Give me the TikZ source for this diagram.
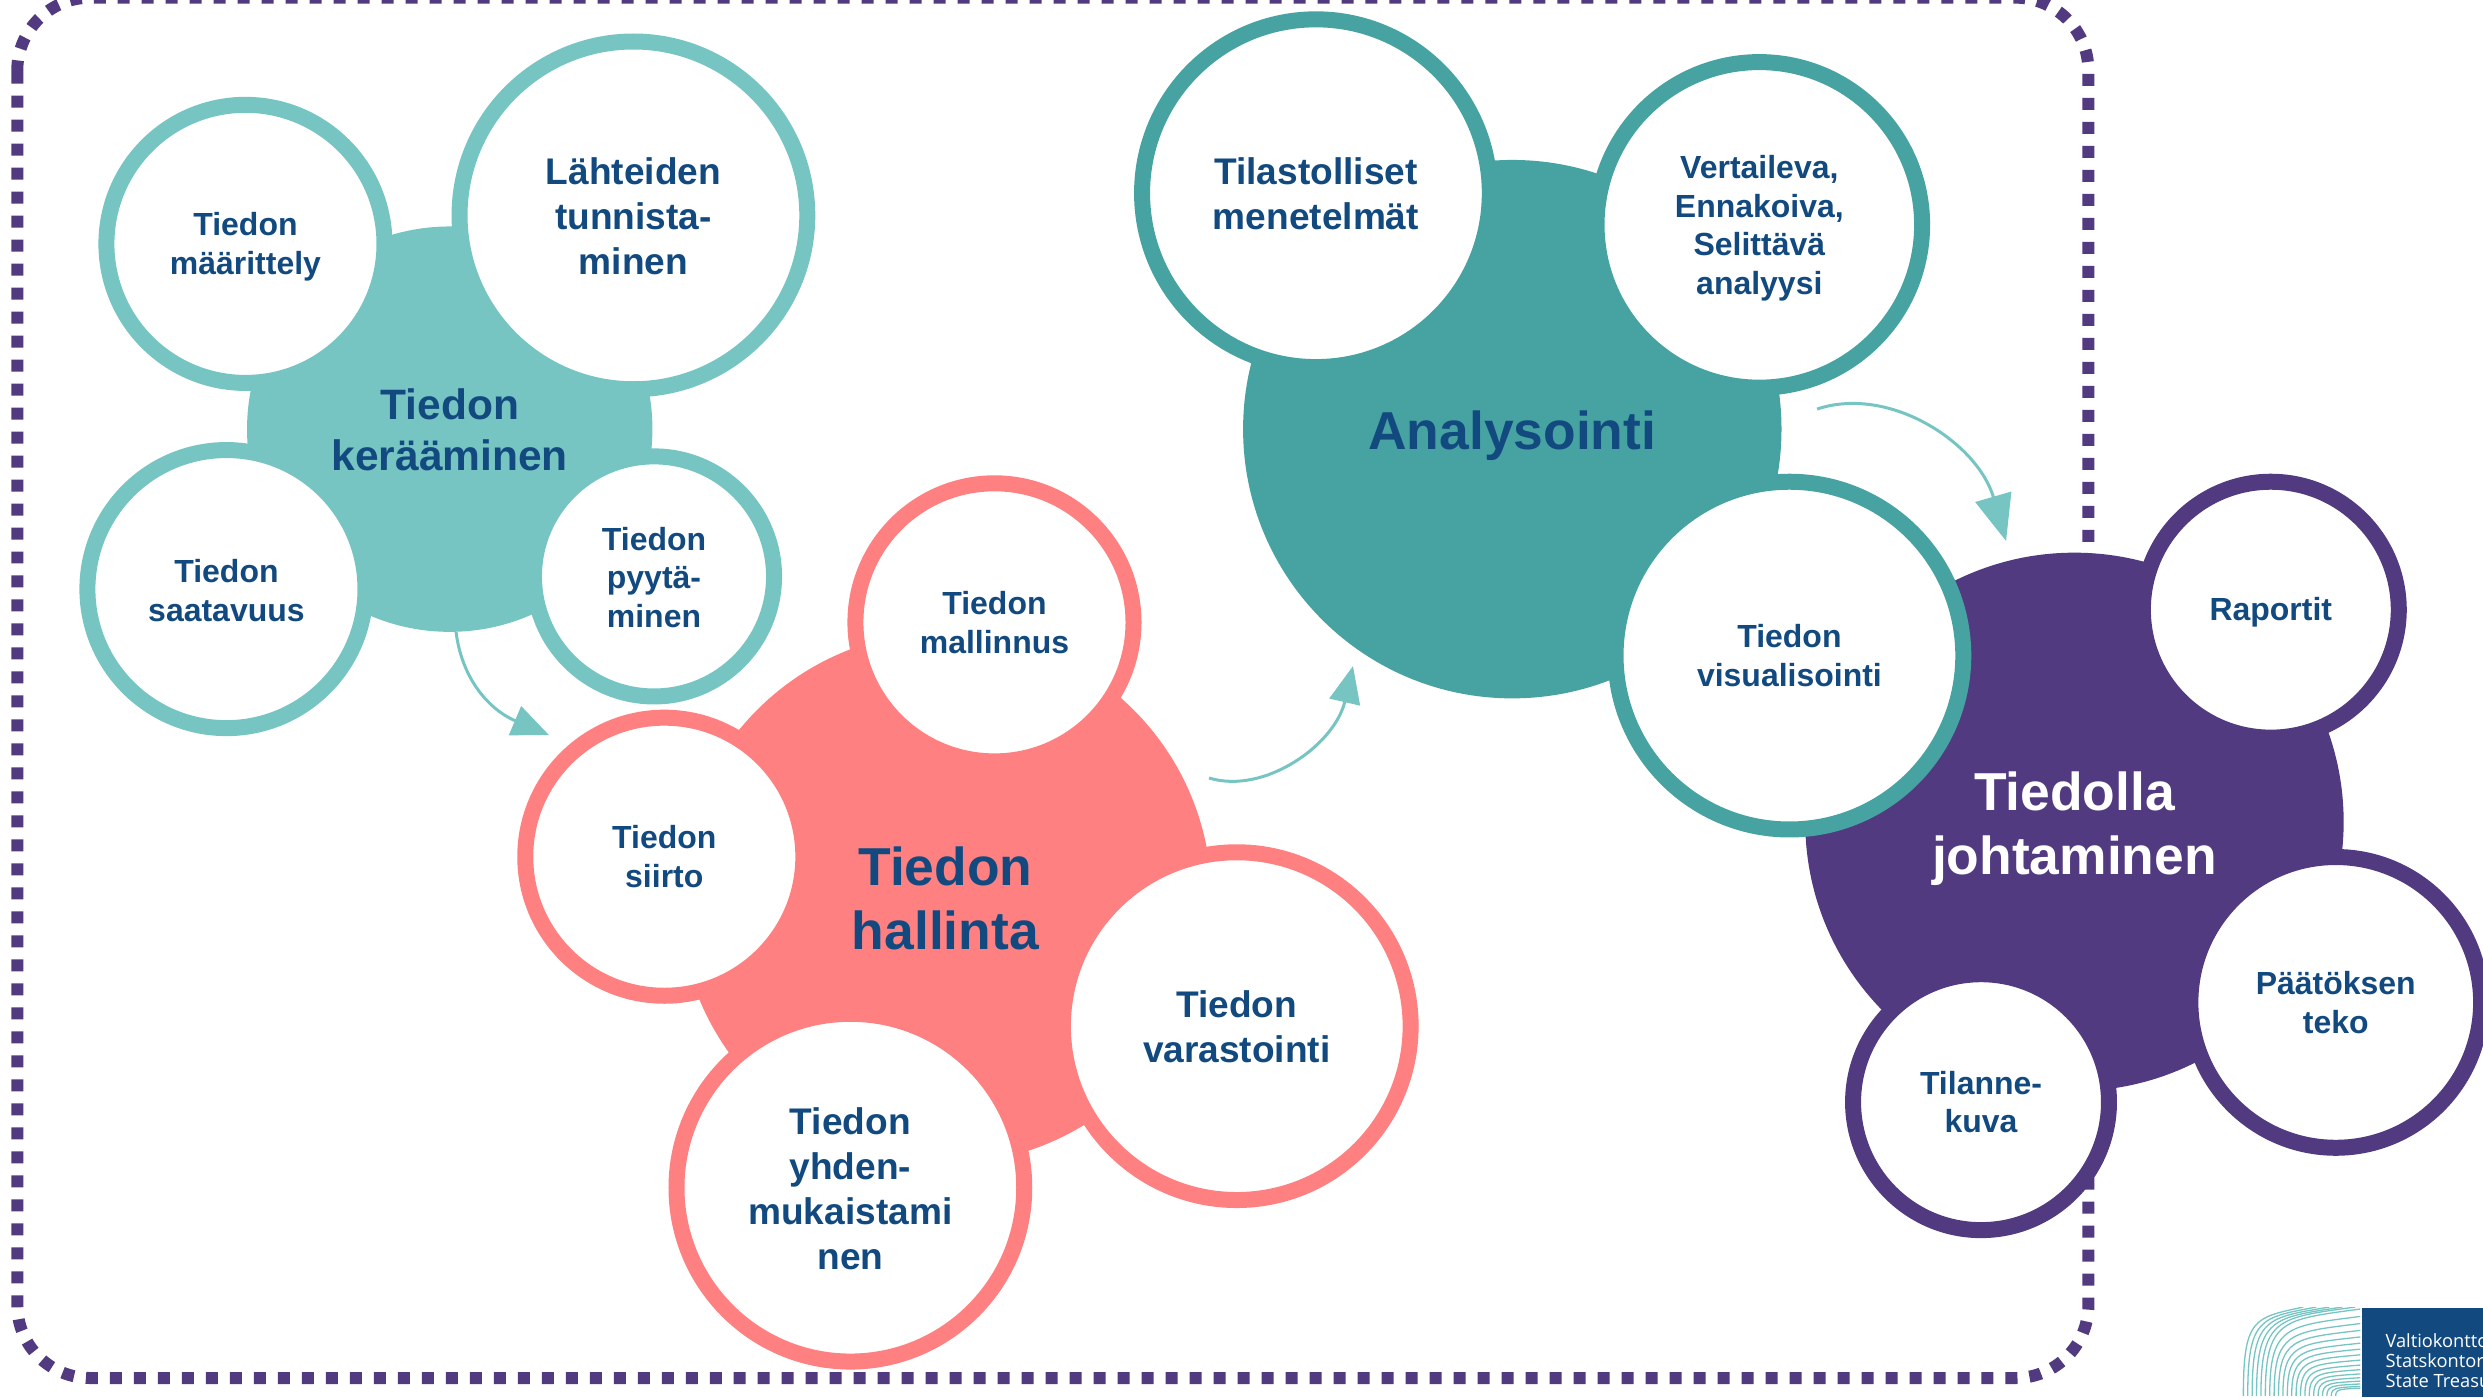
\documentclass[tikz,border=0pt]{standalone}
\usepackage{fontspec}
\setmainfont{Liberation Sans}
\newfontfamily\logofont{Open Sans}
\usetikzlibrary{arrows.meta}
\definecolor{tlight}{HTML}{76C5C3}
\definecolor{tdark}{HTML}{46A3A1}
\definecolor{pinkc}{HTML}{FF8080}
\definecolor{purp}{HTML}{513A7F}
\definecolor{ink}{HTML}{124A80}
\newcommand{\fsS}{\fontsize{9.1}{11}\selectfont\bfseries}
\newcommand{\fsM}{\fontsize{10.55}{12.85}\selectfont\bfseries}
\newcommand{\fsL}{\fontsize{12.1}{14.4}\selectfont\bfseries}
\newcommand{\fsX}{\fontsize{15.2}{18.1}\selectfont\bfseries}
% pushes a label down by #1 reference px (shrunk scale) inside its centred circle
\newcommand{\dn}[1]{\rule{0pt}{\dimexpr\fontcharht\font`d+#1pt*9/10\relax}}
\tikzset{
 x=0.015835cm,y=-0.015835cm,
 mainb/.style={circle,inner sep=0,align=center,text=ink,minimum size=#1*0.03167cm},
 sub/.style={circle,draw,fill=white,line width=0.16cm,inner sep=0,align=center,text=ink,minimum size=(#1-5.2)*0.03167cm},
 flow/.style 2 args={draw=tlight,line width=0.03cm,-{Triangle[length=#1cm,width=#2cm,fill=tlight]}},
}
\begin{document}
\begin{tikzpicture}
\useasboundingbox (0,0) rectangle (1568,882.2);
\clip (0,0) rectangle (1568,882.2);
\fill[white] (0,0) rectangle (1568,882.2);
% dashed frame
\draw[purp,line width=0.12cm,dash pattern=on 0.12cm off 0.12cm,dash phase=0.22cm,rounded corners=0.73cm] (10.9,47) |- (1318.8,-1.5) |- (10.9,870.2) -- (10.9,44.2);
% logo
\begin{scope}[x=0.01cm,y=-0.01cm]
\clip (2230,1308) rectangle (2362,1397);
\foreach \k in {0,...,21}{
 \pgfmathsetmacro{\Sx}{2245+4.4*\k}
 \pgfmathsetmacro{\Ex}{\k<5 ? 2305+13*\k : 2362}
 \pgfmathsetmacro{\Ey}{\k<5 ? 1308 : 1310+80*(1-(1-(\k-5)/17)^1.6)}
 \draw[tlight,line width=0.013cm]
  (\Sx,1397) .. controls (\Sx,{\Ey+0.12*(1397-\Ey)}) and ({\Sx+0.18*(\Ex-\Sx)},{\Ey+0.12*(1397-\Ey)}) .. (\Ex,\Ey);
}
\end{scope}
\fill[ink] (1491.7,826) rectangle (1568,882.2);
\node[anchor=north west,inner sep=0,text=white,align=left,font=\logofont\fontsize{5.2}{5.7}\selectfont] (logotext) at (1506,841.5) {Valtiokonttori\\Statskontoret\\State Treasury};
% group 1
\node[mainb=128,fill=tlight,font=\fsL] (collect) at (284,271) {\dn{1}Tiedon\\kerääminen};
\node[sub=93,draw=tlight,font=\fsS] (maar) at (155,154) {\dn{2}Tiedon\\määrittely};
\node[sub=115,draw=tlight,font=\fsM] (lahte) at (400,136) {\dn{1}Lähteiden\\tunnista-\\minen};
\node[sub=93,draw=tlight,font=\fsS] (saat) at (143,372) {\dn{1.5}Tiedon\\saatavuus};
\node[sub=81,draw=tlight,font=\fsS] (pyyt) at (413,364) {\dn{1}Tiedon\\pyytä-\\minen};
% group 2
\node[mainb=168,fill=pinkc,font=\fsX] (hall) at (597,567) {\dn{1}Tiedon\\hallinta};
\node[sub=93,draw=pinkc,font=\fsS] (mall) at (628,393) {Tiedon\\mallinnus};
\node[sub=93,draw=pinkc,font=\fsS] (siirto) at (419.5,541) {Tiedon\\siirto};
\node[sub=115,draw=pinkc,font=\fsM] (vara) at (781,648) {\dn{1}Tiedon\\varastointi};
\node[sub=115,draw=pinkc,font=\fsM] (yhden) at (537,750) {\dn{1}Tiedon\\yhden-\\mukaistami\\nen};
% group 4 base
\node[mainb=170,fill=purp,text=white,font=\fsX] (joht) at (1310,519) {\dn{5}Tiedolla\\johtaminen};
\node[sub=86,draw=purp,font=\fsS] (rap) at (1434,385) {\dn{2}Raportit};
\node[sub=97,draw=purp,font=\fsS] (paat) at (1475,633) {Päätöksen\\teko};
\node[sub=86,draw=purp,font=\fsS] (tila) at (1251,696) {Tilanne-\\kuva};
% group 3
\node[mainb=170,fill=tdark,font=\fsX] (anal) at (955,271) {\dn{5}Analysointi};
\node[sub=115,draw=tdark,font=\fsM] (tilast) at (831,122) {\dn{1}Tilastolliset\\menetelmät};
\node[sub=108,draw=tdark,font=\fsS] (vert) at (1111,142) {\dn{2.5}Vertaileva,\\Ennakoiva,\\Selittävä\\analyysi};
\node[sub=115,draw=tdark,font=\fsS] (visu) at (1130,414) {Tiedon\\visualisointi};
% arrows
\coordinate (a1s) at (288,399.1);
\coordinate (a1e) at (346.7,464.2);
\coordinate (a2s) at (763.5,491.3);
\coordinate (a2e) at (854.4,420.6);
\coordinate (a3s) at (1147.5,258.3);
\coordinate (a3e) at (1266.8,341.6);
\draw[flow={0.37}{0.31}] (a1s) .. controls (291.8,429.4) and (309.4,448.4) .. (a1e);
\draw[flow={0.37}{0.31}] (a2s) .. controls (798.9,502) and (843,470) .. (a2e);
\draw[flow={0.46}{0.37}] (a3s) .. controls (1193.6,243) and (1249,280) .. (a3e);
\end{tikzpicture}
\end{document}
